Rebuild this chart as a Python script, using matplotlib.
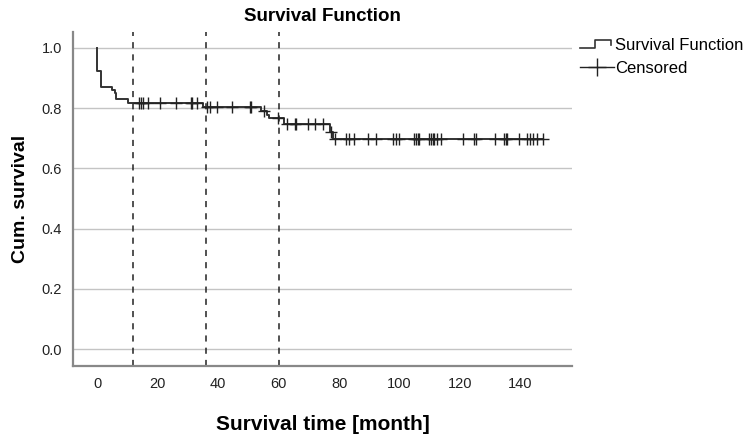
import numpy as np
import matplotlib
matplotlib.use("Agg")
import matplotlib.pyplot as plt
from matplotlib.lines import Line2D
from matplotlib.legend_handler import HandlerBase

plt.rcParams["font.family"] = ["Liberation Sans", "DejaVu Sans"]

# Kaplan-Meier steps (months, cumulative survival)
event_time = [0, 0, 1.2, 5.0, 5.8, 6.2, 10.3, 35.0, 54.3, 56.0, 56.8, 61.8, 76.9, 78.0]
event_surv = [1.0, 0.923, 0.869, 0.860, 0.850, 0.830, 0.818, 0.803, 0.790, 0.777, 0.767, 0.748, 0.722, 0.697]
end_time = 147.3

censor_time = [13.9, 14.5, 15.1, 16.9, 20.8, 26.1, 30.9, 31.4, 32.9,
               36.3, 37.3, 39.5, 44.6, 50.4, 51.0, 55.2, 59.9,
               62.9, 65.3, 65.9, 69.7, 71.9, 74.7, 77.4,
               78.5, 82.4, 83.3, 84.8, 89.5, 92.3, 98.0, 98.9, 99.7,
               104.9, 105.5, 106.0, 106.6, 109.9, 110.4, 111.0, 111.5, 112.3, 113.7,
               120.9, 124.5, 125.3, 131.7, 134.7, 135.2, 135.7, 139.6,
               142.3, 143.1, 144.0, 145.6, 147.3]

ref_lines = [12, 36, 60]
x_ticks = [0, 20, 40, 60, 80, 100, 120, 140]
y_ticks = [0.0, 0.2, 0.4, 0.6, 0.8, 1.0]

line_col = "#333333"


class StepHandler(HandlerBase):
    # legend symbol shaped like a small step
    def create_artists(self, legend, orig, xd, yd, w, h, fontsize, trans):
        xs = [xd, xd + 0.45 * w, xd + 0.45 * w, xd + 0.92 * w, xd + 0.92 * w]
        ys = [yd + 0.1 * h, yd + 0.1 * h, yd + 0.85 * h, yd + 0.85 * h, yd + 0.4 * h]
        ln = Line2D(xs, ys, color=line_col, lw=1.2, transform=trans)
        return [ln]


fig = plt.figure(figsize=(7.49, 4.41), dpi=100)
ax = fig.add_axes([0.0975, 0.170, 0.666, 0.757])

for y in y_ticks:
    ax.axhline(y, color="#c4c4c4", lw=1.0, zorder=0)
for x in ref_lines:
    ax.axvline(x, color="#222222", lw=1.1, ls=(0, (4, 4)), zorder=1)

xs = np.array(event_time + [end_time])
ys = np.array(event_surv + [event_surv[-1]])
ax.step(xs, ys, where="post", color=line_col, lw=1.4, zorder=3)

ct = np.array(censor_time)
idx = np.searchsorted(np.array(event_time), ct, side="right") - 1
cs = np.array(event_surv)[idx]
ax.plot(ct, cs, ls="none", marker="+", ms=8.5, mew=1.0, color="#222222", zorder=4)

ax.set_xlim(-8, 157)
ax.set_ylim(-0.056, 1.052)
ax.set_xticks(x_ticks)
ax.set_yticks(y_ticks)
ax.set_yticklabels([f"{v:.1f}" for v in y_ticks])
ax.tick_params(length=0, labelsize=10.5, colors="#222222", pad=8)
for s in ("top", "right"):
    ax.spines[s].set_visible(False)
for s in ("left", "bottom"):
    ax.spines[s].set_color("#888888")
    ax.spines[s].set_linewidth(1.6)

ax.set_title("Survival Function", fontsize=13.5, fontweight="bold", pad=8)
ax.set_xlabel("Survival time [month]", fontsize=15, fontweight="bold", labelpad=17)
ax.set_ylabel("Cum. survival", fontsize=14, fontweight="bold", labelpad=9)

h1 = Line2D([], [], color=line_col, lw=1.2)
h2 = Line2D([], [], color="#222222", lw=1.0, marker="+", ms=13, mew=1.0)
fig.legend([h1, h2], ["Survival Function", "Censored"],
           handler_map={h1: StepHandler()},
           loc="upper left", bbox_to_anchor=(0.766, 0.93), frameon=False,
           fontsize=12, handlelength=2.0, handletextpad=0.1, labelspacing=0.5,
           borderaxespad=0)

fig.savefig("out.png", dpi=100)
